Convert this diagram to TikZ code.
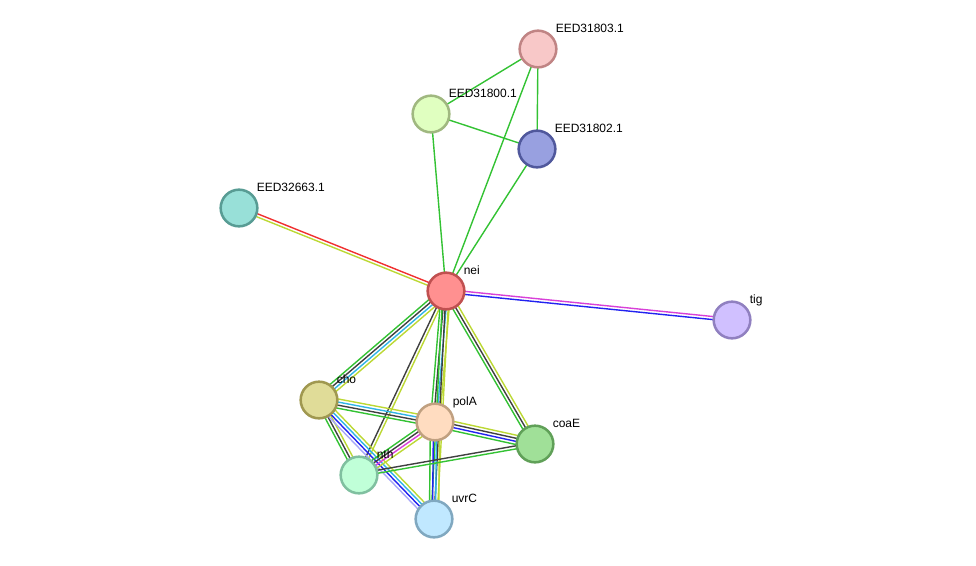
\documentclass[tikz,border=0pt]{standalone}
\usepackage{fontspec}
\setmainfont{Liberation Sans}
\usetikzlibrary{calc,backgrounds}

% evidence channels
\definecolor{nbh}{HTML}{33C233}
\definecolor{fus}{HTML}{F03030}
\definecolor{coc}{HTML}{2222F0}
\definecolor{cex}{HTML}{404040}
\definecolor{expr}{HTML}{D840D8}
\definecolor{dbs}{HTML}{30B4E6}
\definecolor{txt}{HTML}{BCD834}
\definecolor{hom}{HTML}{A8A8F8}
% protein fills and rims
\definecolor{f803}{HTML}{F8C8C8} \definecolor{d803}{HTML}{C08484}
\definecolor{f800}{HTML}{E0FFC0} \definecolor{d800}{HTML}{A0B880}
\definecolor{f802}{HTML}{98A0E0} \definecolor{d802}{HTML}{50589C}
\definecolor{f663}{HTML}{98E0D8} \definecolor{d663}{HTML}{589C94}
\definecolor{fnei}{HTML}{FF9090} \definecolor{dnei}{HTML}{C05050}
\definecolor{ftig}{HTML}{D0C0FF} \definecolor{dtig}{HTML}{9080C0}
\definecolor{fcho}{HTML}{E0DC98} \definecolor{dcho}{HTML}{A09850}
\definecolor{fpol}{HTML}{FFDCC0} \definecolor{dpol}{HTML}{C0A080}
\definecolor{fcoa}{HTML}{A0E098} \definecolor{dcoa}{HTML}{60A058}
\definecolor{fnth}{HTML}{C0FFD8} \definecolor{dnth}{HTML}{80C0A0}
\definecolor{fuvr}{HTML}{C0E8FF} \definecolor{duvr}{HTML}{80A8C0}

\tikzset{
  prot/.style={circle, minimum size=27.5pt, inner sep=0pt, line width=1.9pt, fill=f#1, draw=d#1},
  plabel/.style={anchor=base west, inner sep=0pt, font=\fontsize{9}{10}\selectfont}
}

\newcommand\evid[4]{%
  \foreach \col [count=\i] in {#4} {
    \pgfmathsetmacro\off{(\i-(#3+1)/2)*2.3}
    \draw[color=\col, line width=1.05pt] ($(#1)!\off pt!90:(#2)$) -- ($(#2)!\off pt!-90:(#1)$);
  }}

\begin{document}
\begin{tikzpicture}[x=0.75pt, y=-0.75pt]
    \useasboundingbox (0,0) rectangle (976,565);
    \node[prot=803] (e803) at (538,49) {};
    \node[prot=800] (e800) at (431,114) {};
    \node[prot=802] (e802) at (537,149) {};
    \node[prot=663] (e663) at (239,208) {};
    \node[prot=nei] (nei) at (446,291) {};
    \node[prot=tig] (tig) at (732,320) {};
    \node[prot=cho] (cho) at (319,400) {};
    \node[prot=pol] (pol) at (435,422) {};
    \node[prot=coa] (coa) at (535,444) {};
    \node[prot=nth] (nth) at (359,475) {};
    \node[prot=uvr] (uvr) at (434,519) {};
    \foreach \n/\t in {e803/EED31803.1, e800/EED31800.1, e802/EED31802.1, e663/EED32663.1,
        nei/nei, tig/tig, cho/cho, pol/polA, coa/coaE, nth/nth, uvr/uvrC}
      \node[plabel] (\n-l) at ($(\n)+(17.5,-17)$) {\t};
    \begin{scope}[on background layer]
      \evid{e803}{e800}{1}{nbh}
      \evid{e803}{nei}{1}{nbh}
      \evid{e803}{e802}{1}{nbh}
      \evid{e800}{e802}{1}{nbh}
      \evid{e800}{nei}{1}{nbh}
      \evid{e802}{nei}{1}{nbh}
      \evid{e663}{nei}{2}{txt,fus}
      \evid{nei}{tig}{2}{coc,expr}
      \evid{nei}{cho}{4}{nbh,cex,dbs,txt}
      \evid{nei}{nth}{2}{cex,txt}
      \evid{nei}{pol}{4}{nbh,cex,dbs,txt}
      \evid{nei}{uvr}{3}{nbh,cex,txt}
      \evid{nei}{coa}{3}{nbh,cex,txt}
      \evid{cho}{pol}{4}{nbh,cex,dbs,txt}
      \evid{cho}{nth}{3}{nbh,cex,txt}
      \evid{cho}{uvr}{4}{hom,coc,dbs,txt}
      \evid{pol}{nth}{4}{nbh,cex,expr,txt}
      \evid{pol}{coa}{4}{nbh,coc,cex,txt}
      \evid{pol}{uvr}{4}{nbh,coc,dbs,txt}
      \evid{nth}{coa}{2}{nbh,cex}
    \end{scope}
\end{tikzpicture}
\end{document}
